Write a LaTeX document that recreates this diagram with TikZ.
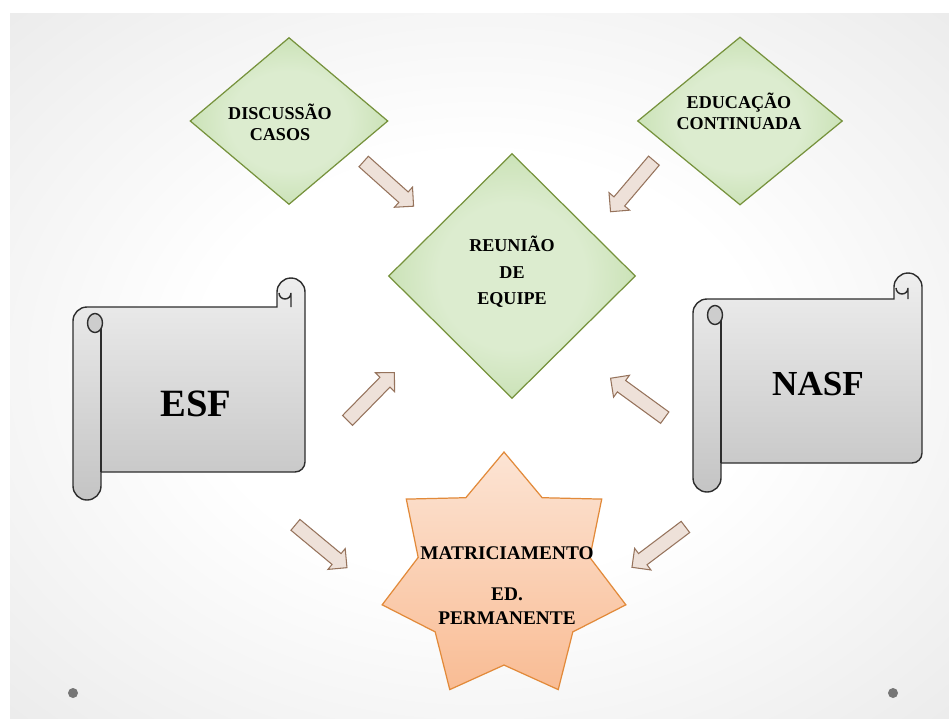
\documentclass[tikz,border=0pt]{standalone}
\usepackage{fontspec}
\setmainfont{Liberation Serif}
\usetikzlibrary{shapes.geometric,shapes.arrows}
\definecolor{leafgreen}{RGB}{118,146,60}
\definecolor{leaflight}{RGB}{220,236,207}
\definecolor{leafmid}{RGB}{190,219,165}
\definecolor{peachline}{RGB}{226,138,58}
\definecolor{peachtop}{RGB}{252,228,212}
\definecolor{peachbot}{RGB}{249,188,148}
\definecolor{scrollline}{RGB}{45,45,45}
\definecolor{scrolltop}{RGB}{238,238,238}
\definecolor{scrollbot}{RGB}{196,196,196}
\definecolor{curlgray}{RGB}{205,205,205}
\definecolor{arrowfill}{RGB}{238,225,217}
\definecolor{arrowline}{RGB}{150,115,92}
\definecolor{bggray}{RGB}{208,208,208}
\definecolor{dotgray}{RGB}{118,118,118}

\pgfdeclareradialshading{bgglow}{\pgfpoint{0bp}{0bp}}{color(0bp)=(white); color(15bp)=(white); color(50bp)=(bggray!70!white); color(71bp)=(bggray)}
\pgfdeclareradialshading{leafglow}{\pgfpoint{0bp}{0bp}}{color(0bp)=(leaflight); color(15bp)=(leaflight); color(33bp)=(leafmid); color(50bp)=(leafmid)}

\tikzset{
  leaf/.style={diamond, draw=leafgreen, line width=0.7pt, shading=leafglow, inner sep=0pt},
  leaftext/.style={align=center, font=\bfseries\fontsize{10.3}{12}\selectfont},
  blockarrow/.style={single arrow, draw=arrowline, fill=arrowfill, line width=0.6pt, minimum height=1.34cm, inner sep=0.13cm, single arrow head extend=0.13cm, single arrow head indent=0pt}
}

\begin{document}
\begin{tikzpicture}[x=0.02cm, y=-0.02cm]
  \useasboundingbox (0,0) rectangle (949,718);
  % fundo
  \shade[shading=bgglow] (10,13) rectangle (949,718);
  % pergaminhos
  \foreach \sl/\sr/\st/\sb/\srt/\slb in {73/305/307/472/278/500, 693/922/299/463/273/492}{
    \draw[scrollline, line width=0.8pt, top color=scrolltop, bottom color=scrollbot]
      (\sl,\slb-14) -- (\sl,\st+14) arc (180:90:0.28cm) -- (\sr-28,\st) -- (\sr-28,\srt+14)
      arc (180:0:0.28cm) -- (\sr,\sb-10) arc (0:-90:0.2cm) -- (\sl+28,\sb) -- (\sl+28,\slb-14)
      arc (0:-180:0.28cm) -- cycle;
    \draw[scrollline, line width=0.8pt] (\sl+28,\st+14) -- (\sl+28,\sb);
    \draw[scrollline, line width=0.8pt, fill=curlgray] (\sl+22,\st+16) ellipse [x radius=0.15cm, y radius=0.19cm];
    \draw[scrollline, line width=0.8pt] (\sr-14,\st) -- (\sr-14,\srt+15) arc (0:-180:0.12cm);
  }
  \node[font=\bfseries\fontsize{22}{26}\selectfont] (esf) at (196,404) {ESF};
  \node[font=\bfseries\fontsize{20}{24}\selectfont] (nasf) at (818,384) {NASF};

  % setas
  \coordinate (s1) at (362,160); \coordinate (e1) at (410,203);
  \coordinate (s2) at (657,157); \coordinate (e2) at (612,210);
  \coordinate (s3) at (345,423); \coordinate (e3) at (392,375);
  \coordinate (s4) at (668,420); \coordinate (e4) at (613,380);
  \coordinate (s5) at (688,525); \coordinate (e5) at (635,565);
  \coordinate (s6) at (292,522); \coordinate (e6) at (345,566);
  \foreach \i in {1,...,6}
    \path (s\i) -- (e\i) node[blockarrow, midway, sloped, allow upside down] (arr\i) {};

  % losangos
  \node[leaf, minimum width=3.96cm, minimum height=3.34cm] (disc) at (289,121) {};
  \node[leaftext] (disctxt) at (280,122) {DISCUSSÃO\\CASOS};
  \node[leaf, minimum width=4.1cm, minimum height=3.36cm] (educ) at (740,121) {};
  \node[leaftext] (eductxt) at (739,111) {EDUCAÇÃO\\CONTINUADA};
  \node[leaf, minimum width=4.94cm, minimum height=4.9cm] (reun) at (512,276) {};
  \node[leaftext, font=\bfseries\fontsize{10.3}{15}\selectfont] (reuntxt) at (512,272) {REUNIÃO\\DE\\EQUIPE};

  % estrela
  \node[star, star points=7, star point ratio=1.42, minimum size=5cm, inner sep=0pt,
        draw=peachline, line width=0.7pt, top color=peachtop, bottom color=peachbot] (matr) at (504,577) {};
  \node[align=center, font=\bfseries\fontsize{11}{14}\selectfont] (matrtxt) at (507,586)
    {MATRICIAMENTO\\[9pt]ED.\\PERMANENTE};

  % pontos
  \fill[dotgray] (73,693) circle (0.1cm);
  \fill[dotgray] (893,693) circle (0.1cm);
\end{tikzpicture}
\end{document}
